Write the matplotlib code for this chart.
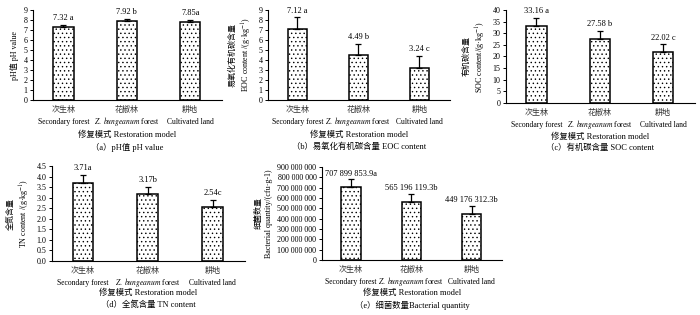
import numpy as np
import matplotlib
matplotlib.use("Agg")
import matplotlib.pyplot as plt
from matplotlib.ticker import FuncFormatter
from matplotlib.transforms import blended_transform_factory, offset_copy

plt.rcParams['font.family'] = ['Liberation Serif', 'Noto Sans CJK SC']
plt.rcParams['mathtext.fontset'] = 'stix'
plt.rcParams['hatch.color'] = '#b0b0b0'
plt.rcParams['hatch.linewidth'] = 0.5

# 数据
cats_cn = ["次生林", "花椒林", "耕地"]
cats_en = ["Secondary forest", "$\\mathit{Z.\\ bungeanum}\\ \\mathrm{forest}$", "Cultivated land"]

ph = [7.32, 7.92, 7.85]
ph_err = [0.2, 0.2, 0.15]
ph_lab = ["7.32 a", "7.92 b", "7.85a"]

eoc = [7.12, 4.49, 3.24]
eoc_err = [1.15, 1.15, 1.15]
eoc_lab = ["7.12 a", "4.49 b", "3.24 c"]

soc = [33.16, 27.58, 22.02]
soc_err = [3.3, 3.3, 3.2]
soc_lab = ["33.16 a", "27.58 b", "22.02 c"]

tn = [3.71, 3.17, 2.54]
tn_err = [0.36, 0.35, 0.34]
tn_lab = ["3.71a", "3.17b", "2.54c"]

bac = [707899853.9, 565196119.3, 449176312.3]
bac_err = [72e6, 75e6, 76e6]
bac_lab = ["707 899 853.9a", "565 196 119.3b", "449 176 312.3b"]

W, H = 700, 315
fig = plt.figure(figsize=(7, 3.15), dpi=100)


def px_axes(x0, y0, x1, y1):
    return fig.add_axes([x0 / W, 1 - y1 / H, (x1 - x0) / W, (y1 - y0) / H])


def panel(ax, vals, errs, labs, ymax, step, ylab, cap, capy, fmt=None, lab_off=2):
    x = np.arange(3)
    ax.bar(x, vals, width=0.32, color='white', edgecolor='black', linewidth=1.1,
           hatch='....', zorder=2)
    ax.errorbar(x, vals, yerr=[np.zeros(3), errs], fmt='none', ecolor='black',
                elinewidth=0.9, capsize=2.5, capthick=0.9, zorder=3)
    for xi, v, e, t in zip(x, vals, errs, labs):
        ax.annotate(t, (xi, v + e), xytext=(0, lab_off), textcoords='offset points',
                    ha='center', va='bottom', fontsize=6)
    ax.set_xlim(-0.48, 2.5)
    ax.set_ylim(0, ymax)
    ax.set_yticks(np.arange(0, ymax + step / 2, step))
    if fmt is not None:
        ax.yaxis.set_major_formatter(FuncFormatter(fmt))
    ax.set_xticks([])
    # 类别标签：中文一行，英文一行
    tr = blended_transform_factory(ax.transData, ax.transAxes)
    for xi, c, e in zip(x, cats_cn, cats_en):
        ax.text(xi, 0, c, transform=offset_copy(tr, fig=fig, y=-7.5, units='points'),
                ha='center', va='center', fontsize=5.8, color='#333333')
        ax.text(xi, 0, e, transform=offset_copy(tr, fig=fig, y=-15.5, units='points'),
                ha='center', va='center', fontsize=5.5)
    ax.tick_params(axis='y', length=2, width=0.7, labelsize=5.8, pad=2)
    for s in ['top', 'right']:
        ax.spines[s].set_visible(False)
    for s in ['left', 'bottom']:
        ax.spines[s].set_linewidth(0.8)
    ax.set_ylabel(ylab, fontsize=5.8, labelpad=3, linespacing=1.4)
    bb = ax.get_position()
    cx = bb.x0 + bb.width / 2
    fig.text(cx, 1 - capy[0] / H, "修复模式 Restoration model", ha='center', va='center', fontsize=6)
    fig.text(cx, 1 - capy[1] / H, cap, ha='center', va='center', fontsize=6)


ax_a = px_axes(33, 10, 222, 100)
panel(ax_a, ph, ph_err, ph_lab, 9, 1, "pH值 pH value", "（a）pH值 pH value", (135, 147),
      fmt=lambda v, p: "%d" % v)

ax_b = px_axes(268, 10, 450, 100)
panel(ax_b, eoc, eoc_err, eoc_lab, 9, 1,
      "易氧化有机碳含量\nEOC content /(g·kg$^{-1}$)", "（b）易氧化有机碳含量 EOC content", (135, 147),
      fmt=lambda v, p: "%d" % v)

ax_c = px_axes(506, 10, 695, 103)
panel(ax_c, soc, soc_err, soc_lab, 40, 5,
      "有机碳含量\nSOC content/(g·kg$^{-1}$)", "（c）有机碳含量 SOC content", (137, 148),
      fmt=lambda v, p: "%d" % v)

ax_d = px_axes(52, 166, 245, 261)
panel(ax_d, tn, tn_err, tn_lab, 4.5, 0.5,
      "全氮含量\nTN content /(g·kg$^{-1}$)", "（d）全氮含量 TN content", (293, 305),
      fmt=lambda v, p: "%.1f" % v)

ax_e = px_axes(322, 167, 502, 260)
panel(ax_e, bac, bac_err, bac_lab, 9e8, 1e8,
      "细菌数量\nBacterial quantity/(cfu·g-1)", "（e）细菌数量Bacterial quantity", (293, 305),
      fmt=lambda v, p: "{:,}".format(int(round(v))).replace(",", " "), lab_off=1)

fig.savefig("out.png", dpi=100)
